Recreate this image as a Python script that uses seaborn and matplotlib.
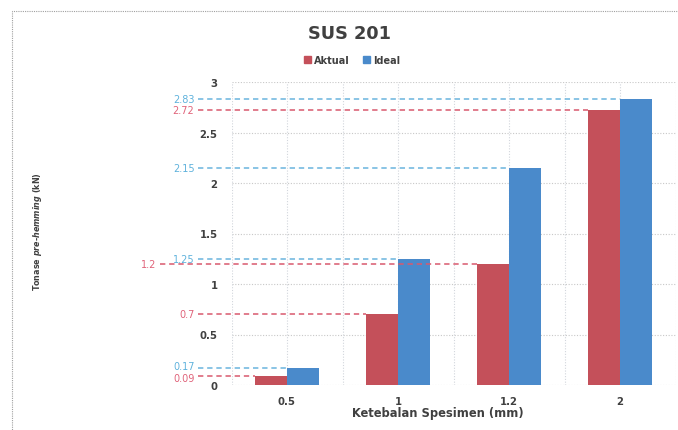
import matplotlib
matplotlib.use("Agg")
import matplotlib.pyplot as plt
import matplotlib.transforms as mtransforms
from matplotlib.patches import Rectangle
import seaborn as sns
import pandas as pd

# Specimen thickness categories and pre-hemming tonnage (kN)
thickness = ["0.5", "1", "1.2", "2"]
aktual = [0.09, 0.7, 1.2, 2.72]
ideal = [0.17, 1.25, 2.15, 2.83]
series_names = ["Aktual", "Ideal"]
y_ticks = [0, 0.5, 1, 1.5, 2, 2.5, 3]

bar_colors = ["#c4505a", "#4a8acb"]
label_colors = ["#e0637a", "#5fb2dc"]
line_colors = ["#d9596e", "#6ab4de"]

df = pd.DataFrame({
    "Ketebalan": thickness * 2,
    "Tonase": aktual + ideal,
    "Seri": [series_names[0]] * len(thickness) + [series_names[1]] * len(thickness),
})

sns.set_theme(style="white")
plt.rcParams["font.family"] = ["DejaVu Sans"]
plt.rcParams["mathtext.fontset"] = "custom"
plt.rcParams["mathtext.rm"] = "DejaVu Sans:bold"
plt.rcParams["mathtext.it"] = "DejaVu Sans:italic:bold"

fig = plt.figure(figsize=(6.78, 4.31), dpi=100)
W, H = 678, 431
ax = fig.add_axes([231.5 / W, 1 - 386 / H, 444 / W, (386 - 83) / H])

sns.barplot(data=df, x="Ketebalan", y="Tonase", hue="Seri", order=thickness,
            hue_order=series_names, palette=bar_colors, width=0.58,
            saturation=1, legend=False, ax=ax, edgecolor="none")

ax.set_xlim(-0.5, len(thickness) - 0.5)
ax.set_ylim(0, 3)
ax.set_yticks(y_ticks)
ax.set_yticklabels([f"{v:g}" for v in y_ticks])
for s in ax.spines.values():
    s.set_visible(False)

# dotted grid: horizontal every 0.5, vertical every half category
for v in y_ticks:
    ax.axhline(v, color="#c8c8c8", lw=0.8, ls=(0, (1, 1.5)), zorder=0)
for i in range(2 * len(thickness) + 1):
    ax.axvline(-0.5 + 0.5 * i, color="#d2d6dc", lw=0.8, ls=(0, (1, 1.5)), zorder=0)

ax.tick_params(axis="both", length=0, labelsize=7.3, labelcolor="#404040")
ax.tick_params(axis="y", pad=10)
ax.tick_params(axis="x", pad=8)
for t in ax.get_xticklabels() + ax.get_yticklabels():
    t.set_fontweight("bold")
ax.set_xlabel("")
ax.set_ylabel("")

# dashed reference lines from value labels to each bar top
xl0, xl1 = ax.get_xlim()
trans = mtransforms.blended_transform_factory(ax.transAxes, ax.transData)
start_default = (198 - 231.5) / 444
start_shifted = (160 - 231.5) / 444
all_vals = [aktual, ideal]
for si, container in enumerate(ax.containers):
    other = all_vals[1 - si]
    for bar, v in zip(container, all_vals[si]):
        bx = (bar.get_x() - xl0) / (xl1 - xl0)
        crowded = any(0 < (o - v) < 0.06 for o in other)
        x0 = start_shifted if crowded else start_default
        # nudge labels of nearby values apart vertically
        dy = 0
        for o in other:
            if 0.06 <= abs(o - v) < 0.1:
                dy = 1.6 if v > o else -1.6
        ax.plot([x0, bx], [v, v], transform=trans, clip_on=False,
                color=line_colors[si], lw=1.1, ls=(0, (3.5, 2.5)), zorder=3)
        ax.annotate(f"{v:g}", xy=(x0 - 0.008, v), xycoords=trans,
                    xytext=(0, dy), textcoords="offset points",
                    ha="right", va="center", fontsize=7, color=label_colors[si])

fig.text(350 / W, 1 - 34 / H, "SUS 201", ha="center", va="center",
         fontsize=12.8, fontweight="bold", color="#404040")
fig.text(438 / W, 1 - 414 / H, "Ketebalan Spesimen (mm)", ha="center", va="center",
         fontsize=8.3, fontweight="bold", color="#404040")
fig.text(38 / W, 1 - 232 / H, r"Tonase $\it{pre}$-$\it{hemming}$ (kN)", ha="center",
         va="center", rotation=90, fontsize=5.8, fontweight="bold", color="#404040")

handles = [Rectangle((0, 0), 1, 1, color=c) for c in bar_colors]
leg = fig.legend(handles, series_names, loc="center", bbox_to_anchor=(352 / W, 1 - 61 / H),
                 ncol=2, frameon=False, fontsize=7, handlelength=0.7, handleheight=0.7,
                 handletextpad=0.3, columnspacing=1.4)
for t in leg.get_texts():
    t.set_fontweight("bold")
    t.set_color("#404040")

# outer chart border
fig.add_artist(Rectangle((12 / W, -0.05), 1.1, 1 - 12 / H + 0.05, transform=fig.transFigure,
                         fill=False, edgecolor="#a0a0a0", lw=0.8, ls=(0, (1, 1))))

fig.savefig("out.png", dpi=100)
